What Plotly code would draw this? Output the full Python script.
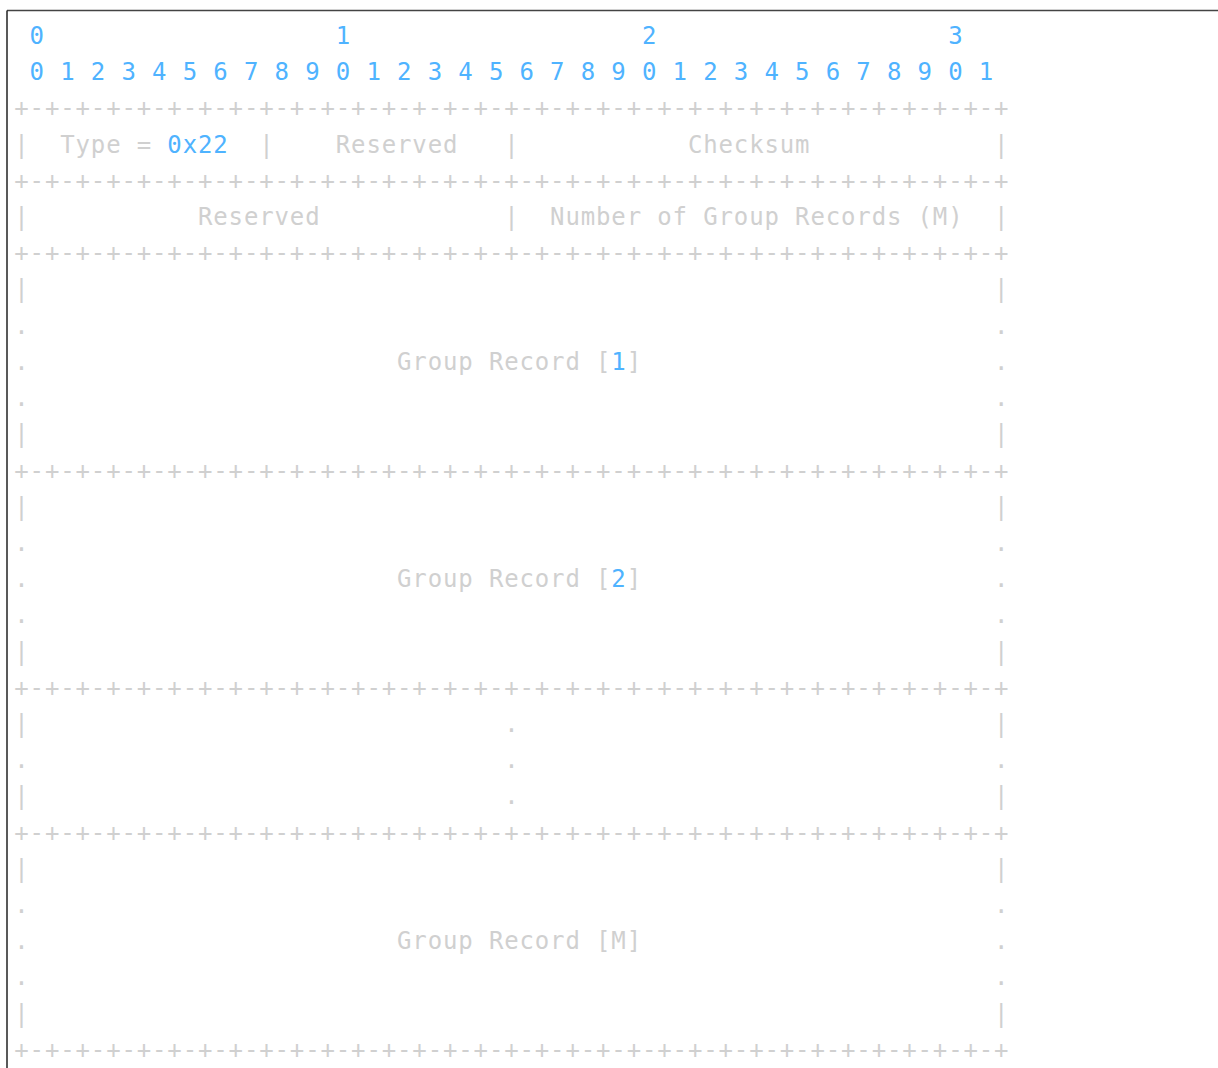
import re
import plotly.graph_objects as go

# ---- data: the text of the diagram, one entry per line ----
bit_tens = " 0                   1                   2                   3"
bit_units = " 0 1 2 3 4 5 6 7 8 9 0 1 2 3 4 5 6 7 8 9 0 1 2 3 4 5 6 7 8 9 0 1"
border = "+" + "-+" * 32
row_type = "|  Type = 0x22  |    Reserved   |           Checksum            |"
row_nrec = "|           Reserved            |  Number of Group Records (M)  |"
blank_bar = "|" + " " * 63 + "|"
blank_dot = "." + " " * 63 + "."
labels = ["Group Record [1]", "Group Record [2]", None, "Group Record [M]"]


def record_block(label):
    if label is None:
        mid_bar = "|" + " " * 31 + "." + " " * 31 + "|"
        mid_dot = "." + " " * 31 + "." + " " * 31 + "."
        return [mid_bar, mid_dot, mid_bar, border]
    lab = "." + " " * 24 + label + " " * (63 - 24 - len(label)) + "."
    return [blank_bar, blank_dot, lab, blank_dot, blank_bar, border]


diagram_lines = [bit_tens, bit_units, border, row_type, border, row_nrec, border]
for lab in labels:
    diagram_lines += record_block(lab)

BLUE = "#4fb3ff"
GREY = "#d0d0d0"
FONT = "DejaVu Sans Mono"

# split characters into numeric tokens (blue) and the rest (grey)
num_re = re.compile(r"0x[0-9A-Fa-f]+|\d+")
xs = {"blue": [], "grey": []}
ys = {"blue": [], "grey": []}
ts = {"blue": [], "grey": []}
for r, line in enumerate(diagram_lines):
    blue_cols = set()
    for m in num_re.finditer(line):
        blue_cols.update(range(m.start(), m.end()))
    for c, ch in enumerate(line):
        if ch == " ":
            continue
        key = "blue" if c in blue_cols else "grey"
        xs[key].append(c)
        ys[key].append(r)
        ts[key].append(ch)

fig = go.Figure()
for key, col in (("grey", GREY), ("blue", BLUE)):
    fig.add_trace(go.Scatter(
        x=xs[key], y=ys[key], text=ts[key], mode="text",
        textposition="middle center",
        textfont=dict(family=FONT, size=24, color=col),
        hoverinfo="skip", showlegend=False,
    ))

W, H = 1218, 1068
cw, x0 = 15.31, 21.5   # pixel pitch / first column centre
rh, y0 = 36.21, 38.0   # pixel line height / first row centre

fig.update_layout(
    width=W, height=H,
    margin=dict(l=0, r=0, t=0, b=0),
    paper_bgcolor="white", plot_bgcolor="white",
    xaxis=dict(range=[-x0 / cw, (W - x0) / cw], visible=False, fixedrange=True),
    yaxis=dict(range=[(H - y0) / rh, -y0 / rh], visible=False, fixedrange=True),
    shapes=[
        dict(type="line", xref="paper", yref="paper", x0=7 / W, x1=1.0,
             y0=1 - 10.5 / H, y1=1 - 10.5 / H, line=dict(color="#444444", width=1.5)),
        dict(type="line", xref="paper", yref="paper", x0=7 / W, x1=7 / W,
             y0=1 - 10.5 / H, y1=0, line=dict(color="#222222", width=1.5)),
    ],
)

fig.write_html(
    "out.html",
    config={"displayModeBar": False},
    post_script="document.body.style.margin='0';document.body.style.overflow='hidden';",
)
